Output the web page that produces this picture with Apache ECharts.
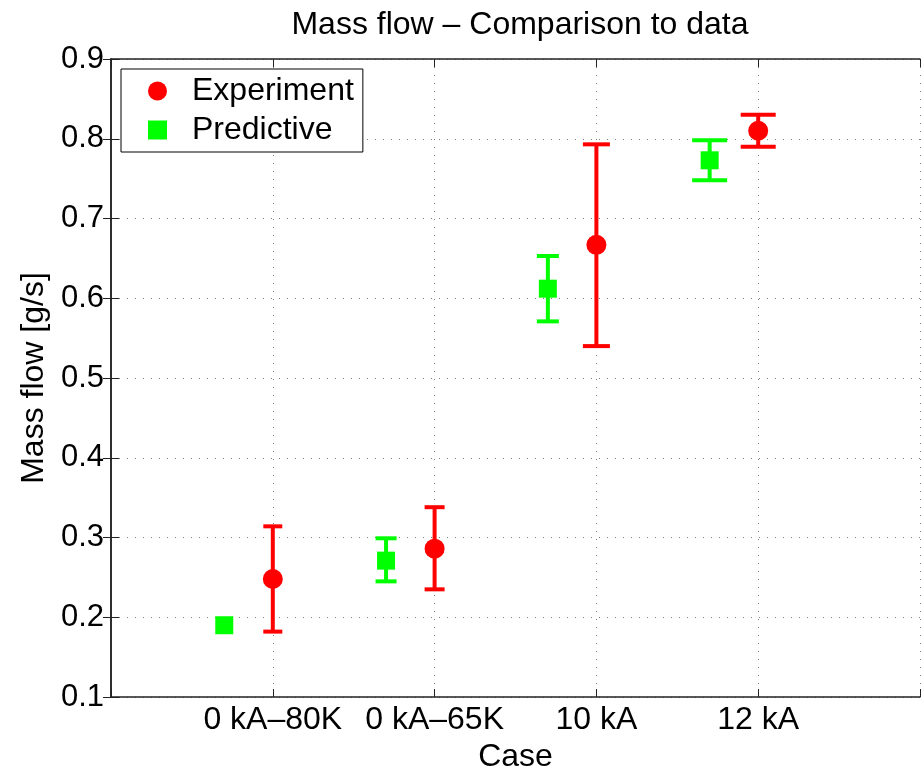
<!DOCTYPE html>
<html>
<head>
<meta charset="utf-8">
<script src="https://cdn.jsdelivr.net/npm/echarts@6/dist/echarts.min.js"></script>
<style>
html,body{margin:0;padding:0;background:#fff;}
#chart{width:922px;height:767px;}
</style>
</head>
<body>
<div id="chart"></div>
<script>
// ---- data ----
const categories = ['0 kA\u201380K', '0 kA\u201365K', '10 kA', '12 kA'];
const categoryPos = [1, 2, 3, 4];
const expX = [1, 2, 3, 4];
const expMean = [0.248, 0.286, 0.667, 0.810];
const expLow = [0.182, 0.235, 0.540, 0.790];
const expHigh = [0.314, 0.338, 0.793, 0.830];
const predX = [0.7, 1.7, 2.7, 3.7];
const predMean = [0.190, 0.271, 0.612, 0.773];
const predLow = [0.190, 0.245, 0.571, 0.748];
const predHigh = [0.190, 0.299, 0.653, 0.798];
const yTicks = [0.1, 0.2, 0.3, 0.4, 0.5, 0.6, 0.7, 0.8, 0.9];

// ---- styles ----
const FONT = 'Liberation Sans, Arial, sans-serif';
const RED = '#ff0000';
const GREEN = '#00ff00';
const expCapPx = [19, 20, 27, 35];
const predCapPx = [0, 21, 22, 35];

function errRender(color, caps) {
  return function (params, api) {
    const x = api.value(0), lo = api.value(1), hi = api.value(2);
    const pLo = api.coord([x, lo]);
    const pHi = api.coord([x, hi]);
    const hw = caps[params.dataIndex] / 2;
    const st = { stroke: color, lineWidth: 4 };
    if (Math.abs(pLo[1] - pHi[1]) < 0.5) return { type: 'group', children: [] };
    return {
      type: 'group',
      children: [
        { type: 'line', shape: { x1: pLo[0], y1: pLo[1], x2: pHi[0], y2: pHi[1] }, style: st },
        { type: 'line', shape: { x1: pHi[0] - hw, y1: pHi[1], x2: pHi[0] + hw, y2: pHi[1] }, style: st },
        { type: 'line', shape: { x1: pLo[0] - hw, y1: pLo[1], x2: pLo[0] + hw, y2: pLo[1] }, style: st }
      ]
    };
  };
}

const chart = echarts.init(document.getElementById('chart'), null, { renderer: 'canvas' });
const axisLineStyle = { color: '#222', width: 1.5 };
const gridDots = { color: '#808080', width: 1, type: [1, 7] };

const option = {
  backgroundColor: '#fff',
  animation: false,
  title: {
    text: 'Mass flow \u2013 Comparison to data',
    left: 515,
    textAlign: 'center',
    top: 4,
    textStyle: { fontFamily: FONT, fontSize: 32, fontWeight: 'normal', color: '#000' }
  },
  grid: { left: 111, right: 2, top: 59, bottom: 70, containLabel: false, outerBoundsMode: 'none' },
  legend: {
    left: 121, top: 69, orient: 'vertical',
    borderColor: '#000', borderWidth: 1, backgroundColor: '#fff',
    padding: [6, 9, 6, 27], itemGap: 7, itemWidth: 19, itemHeight: 19,
    textStyle: { fontFamily: FONT, fontSize: 32, color: '#000', padding: [0, 0, 0, 20] },
    data: [{ name: 'Experiment', icon: 'circle' }, { name: 'Predictive', icon: 'rect' }]
  },
  xAxis: [
    {
      type: 'value', position: 'bottom', min: 0, max: 5, interval: 1,
      name: 'Case', nameLocation: 'middle', nameGap: 40,
      nameTextStyle: { fontFamily: FONT, fontSize: 32, color: '#000' },
      axisLine: { show: true, lineStyle: axisLineStyle },
      axisTick: { show: true, inside: true, length: 8, lineStyle: { color: '#222' } },
      axisLabel: {
        fontFamily: FONT, fontSize: 32, color: '#000', margin: 7,
        formatter: function (v) { const i = categoryPos.indexOf(Math.round(v)); return i >= 0 ? categories[i] : ''; }
      },
      splitLine: { show: true, lineStyle: gridDots }
    },
    {
      type: 'value', position: 'top', min: 0, max: 5, interval: 1,
      axisLine: { show: true, lineStyle: axisLineStyle },
      axisTick: { show: true, inside: true, length: 8, lineStyle: { color: '#222' } },
      axisLabel: { show: false },
      splitLine: { show: false }
    }
  ],
  yAxis: [
    {
      type: 'value', position: 'left', min: yTicks[0], max: yTicks[yTicks.length - 1], interval: 0.1,
      name: 'Mass flow [g/s]', nameLocation: 'middle', nameGap: 52, nameRotate: 90,
      nameTextStyle: { fontFamily: FONT, fontSize: 32, color: '#000' },
      axisLine: { show: true, lineStyle: axisLineStyle },
      axisTick: { show: true, inside: true, length: 8, lineStyle: { color: '#222' } },
      axisLabel: { fontFamily: FONT, fontSize: 31, color: '#000', margin: 7, formatter: function (v) { return v.toFixed(1); } },
      splitLine: { show: true, lineStyle: gridDots }
    },
    {
      type: 'value', position: 'right', min: yTicks[0], max: yTicks[yTicks.length - 1], interval: 0.1,
      axisLine: { show: true, lineStyle: axisLineStyle },
      axisTick: { show: true, inside: true, length: 8, lineStyle: { color: '#222' } },
      axisLabel: { show: false },
      splitLine: { show: false }
    }
  ],
  series: [
    {
      name: 'expErr', type: 'custom', xAxisIndex: 0, yAxisIndex: 0, z: 3,
      renderItem: errRender(RED, expCapPx),
      encode: { x: 0, y: [1, 2] },
      data: expX.map((x, i) => [x, expLow[i], expHigh[i]])
    },
    {
      name: 'predErr', type: 'custom', xAxisIndex: 0, yAxisIndex: 0, z: 3,
      renderItem: errRender(GREEN, predCapPx),
      encode: { x: 0, y: [1, 2] },
      data: predX.map((x, i) => [x, predLow[i], predHigh[i]])
    },
    {
      name: 'Experiment', type: 'scatter', xAxisIndex: 0, yAxisIndex: 0, z: 5,
      symbol: 'circle', symbolSize: 20,
      itemStyle: { color: RED, opacity: 1 },
      data: expX.map((x, i) => [x, expMean[i]])
    },
    {
      name: 'Predictive', type: 'scatter', xAxisIndex: 0, yAxisIndex: 0, z: 5,
      symbol: 'rect', symbolSize: 18,
      itemStyle: { color: GREEN, opacity: 1 },
      data: predX.map((x, i) => [x, predMean[i]])
    }
  ]
};
chart.setOption(option);
</script>
</body>
</html>
